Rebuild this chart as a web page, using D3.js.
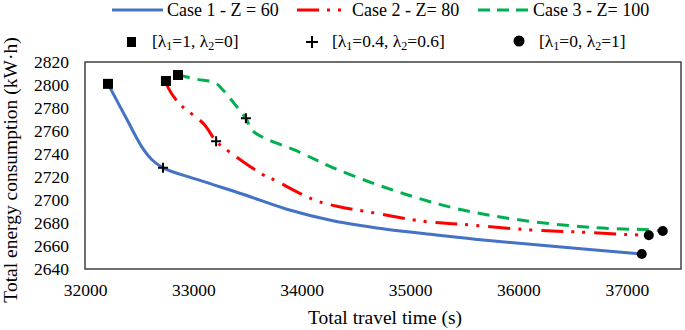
<!DOCTYPE html>
<html>
<head>
<meta charset="utf-8">
<script src="https://cdn.jsdelivr.net/npm/d3@7"></script>
<style>
  body { margin: 0; background: #fff; }
</style>
</head>
<body>
<svg width="685" height="330"></svg>
<script>
    // series: [travel time, energy]
    const case1 = [[32212, 2801], [32387, 2770], [32526, 2746], [32618, 2735], [32720, 2728],
      [33061, 2717], [33458, 2705], [33863, 2692], [34288, 2682], [34749, 2675],
      [35210, 2670], [35700, 2665], [36290, 2660], [37138, 2653]];
    const case2 = [[32747, 2803.5], [32766, 2798], [32858, 2785], [32941, 2778], [33033, 2771.5],
      [33107, 2765], [33210, 2751], [33292, 2744.7], [33642, 2722], [33734, 2718],
      [34103, 2700.5], [34325, 2694.5], [34657, 2689], [35118, 2681.5], [35459, 2679],
      [36105, 2674], [36594, 2672], [37000, 2670], [37203, 2669.4]];
    const case3 = [[32858, 2808.7], [33033, 2805], [33199, 2802], [33273, 2795.7], [33402, 2781],
      [33485, 2771], [33553, 2759.6], [33983, 2741.5], [34290, 2728], [34690, 2713.5],
      [35060, 2702], [35429, 2692.5], [35985, 2683], [36686, 2676], [37212, 2674], [37332, 2673]];

    // lambda weight markers
    const squarePts = [[32212, 2801], [32747, 2803.5], [32858, 2808.7]];
    const plusPts = [[32720, 2728], [33210, 2751], [33485, 2771]];
    const circlePts = [[37138, 2653], [37203, 2669.4], [37332, 2673]];

    const seriesNames = ["Case 1 - Z = 60", "Case 2 - Z= 80", "Case 3 - Z= 100"];
    const xTicks = [32000, 33000, 34000, 35000, 36000, 37000];
    const yTicks = [2640, 2660, 2680, 2700, 2720, 2740, 2760, 2780, 2800, 2820];

    const FONT = "Liberation Serif";

    const svg = d3.select("svg").attr("font-family", FONT),
      margin = { top: 62, right: 4, bottom: 61, left: 85 },
      width = +svg.attr("width") - margin.left - margin.right,
      height = +svg.attr("height") - margin.top - margin.bottom;

    const g = svg.append("g").attr("transform", `translate(${margin.left},${margin.top})`);

    const x = d3.scaleLinear().domain([32000, 37500]).range([0, width]);
    const y = d3.scaleLinear().domain([2640, 2820]).range([height, 0]);

    // plot frame
    g.append("rect")
      .attr("width", width)
      .attr("height", height)
      .attr("fill", "none")
      .attr("stroke", "#404040")
      .attr("stroke-width", 1.5);

    g.append("g")
      .attr("transform", `translate(0,${height})`)
      .call(d3.axisBottom(x).tickValues(xTicks).tickSize(0).tickPadding(15).tickFormat(d3.format("d")))
      .call(a => a.attr("font-family", FONT).attr("font-size", 17.5).select(".domain").remove())
      .selectAll("text")
      .attr("fill", "#000");

    g.append("g")
      .call(d3.axisLeft(y).tickValues(yTicks).tickSize(0).tickPadding(16).tickFormat(d3.format("d")))
      .call(a => a.attr("font-family", FONT).attr("font-size", 17.5).select(".domain").remove())
      .selectAll("text")
      .attr("fill", "#000");

    // axis labels
    svg.append("text")
      .attr("x", 385)
      .attr("y", 324)
      .attr("text-anchor", "middle")
      .attr("font-family", FONT)
      .attr("font-size", 19.5)
      .text("Total travel time (s)");

    svg.append("text")
      .attr("transform", "rotate(-90)")
      .attr("x", -170)
      .attr("y", 17)
      .attr("text-anchor", "middle")
      .attr("font-family", FONT)
      .attr("font-size", 19.5)
      .text("Total energy consumption (kW·h)");

    const line = d3.line().x(d => x(d[0])).y(d => y(d[1])).curve(d3.curveCatmullRom.alpha(0.5));

    const styles = [
      { color: "#4472C4", dash: null },
      { color: "#FF0000", dash: "22,8,3,8,3,9" },
      { color: "#00B050", dash: "12,8" }
    ];

    [case1, case2, case3].forEach((s, i) => {
      g.append("path")
        .datum(s)
        .attr("fill", "none")
        .attr("stroke", styles[i].color)
        .attr("stroke-width", 3)
        .attr("stroke-dasharray", styles[i].dash)
        .attr("d", line);
    });

    g.selectAll(".sq")
      .data(squarePts)
      .enter()
      .append("rect")
      .attr("x", d => x(d[0]) - 5)
      .attr("y", d => y(d[1]) - 5)
      .attr("width", 10)
      .attr("height", 10)
      .attr("fill", "#000");

    g.selectAll(".pl")
      .data(plusPts)
      .enter()
      .append("path")
      .attr("d", d => `M${x(d[0]) - 5},${y(d[1])}h10M${x(d[0])},${y(d[1]) - 5}v10`)
      .attr("stroke", "#000")
      .attr("stroke-width", 2);

    g.selectAll(".ci")
      .data(circlePts)
      .enter()
      .append("circle")
      .attr("cx", d => x(d[0]))
      .attr("cy", d => y(d[1]))
      .attr("r", 5)
      .attr("fill", "#000");

    // legend row 1: lines
    const legX = [112, 297, 478];
    seriesNames.forEach((name, i) => {
      svg.append("line")
        .attr("x1", legX[i]).attr("x2", legX[i] + 51)
        .attr("y1", 10).attr("y2", 10)
        .attr("stroke", styles[i].color)
        .attr("stroke-width", 3)
        .attr("stroke-dasharray", i === 0 ? null : (i === 1 ? "22,8,3,8,3,9" : "12,7"));
      svg.append("text")
        .attr("x", legX[i] + 55)
        .attr("y", 16)
        .attr("font-family", FONT)
        .attr("font-size", 18)
        .text(name);
    });

    // legend row 2: markers
    const row2 = svg.append("g");
    row2.append("rect").attr("x", 127).attr("y", 37).attr("width", 9).attr("height", 10).attr("fill", "#000");
    row2.append("path").attr("d", "M306,42h12M312,36v12").attr("stroke", "#000").attr("stroke-width", 2);
    row2.append("circle").attr("cx", 519).attr("cy", 41).attr("r", 5.5).attr("fill", "#000");

    const lam = [
      { x: 152, l1: "1", l2: "0" },
      { x: 332, l1: "0.4", l2: "0.6" },
      { x: 539, l1: "0", l2: "1" }
    ];
    lam.forEach(d => {
      const t = row2.append("text").attr("x", d.x).attr("y", 47)
        .attr("font-family", FONT).attr("font-size", 17.5);
      t.append("tspan").text("[λ");
      t.append("tspan").attr("baseline-shift", "-25%").attr("font-size", 12).text("1");
      t.append("tspan").text("=" + d.l1 + ", λ");
      t.append("tspan").attr("baseline-shift", "-25%").attr("font-size", 12).text("2");
      t.append("tspan").text("=" + d.l2 + "]");
    });
</script>
</body>
</html>
